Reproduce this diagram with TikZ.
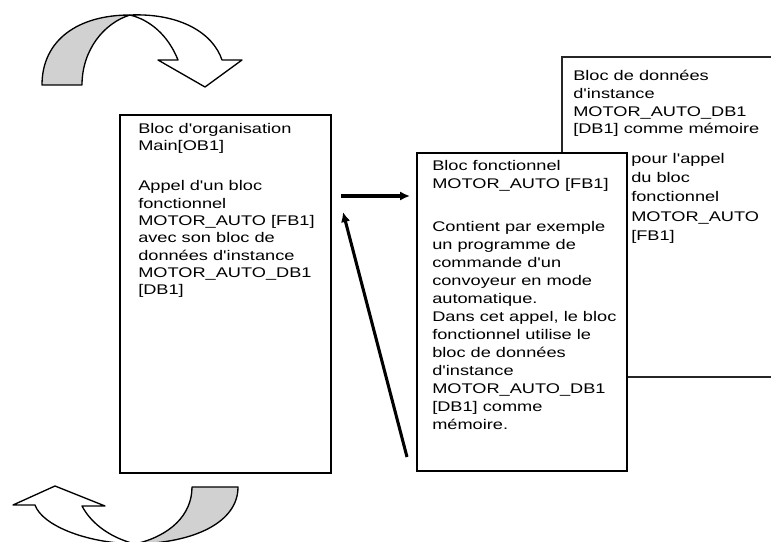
\documentclass[tikz,border=0pt]{standalone}
\usepackage{fontspec}
\newfontfamily\boxfont{Liberation Sans}[FakeStretch=1.3]
\usepackage{tikz}
\usetikzlibrary{arrows,arrows.meta,calc,positioning}
\tikzset{
        block/.style = {draw, rectangle, line width=1pt, fill=white,
            inner sep=0pt},
        txt/.style = {anchor=north west, inner sep=0pt, align=left,
            font=\boxfont\fontsize{10.5}{13}\selectfont},
        arrow/.style = {draw, -{Latex[length=7.5pt,width=7pt]}, line width=2.3pt},
        band/.style = {draw, line width=1pt, line join=round},
    }

\begin{document}
\begin{tikzpicture}[x=0.75pt,y=0.75pt,yscale=-1,xscale=1]
\useasboundingbox (0,0) rectangle (771,542);
\clip (0,0) rectangle (771,542);

%Curve Lines: upper turning arrow
\draw [band, fill=black!18] (42,85) -- (82,85) .. controls (82,50) and (104,23) .. (130,15) .. controls (78,15) and (42,40) .. (42,85) -- cycle;
\draw [band, fill=white] (130,15) .. controls (180,13) and (213,33) .. (222,60) -- (242,60) -- (205,87) -- (158,60) -- (178,60) .. controls (168,35) and (150,20) .. (130,15) -- cycle;
%Curve Lines: lower turning arrow
\draw [band, fill=black!18] (192,487) -- (238,487) .. controls (238,522) and (195,543) .. (135,544) .. controls (170,536) and (192,515) .. (192,487) -- cycle;
\draw [band, fill=white] (135,544) .. controls (85,543) and (42,525) .. (35,505) -- (13,505) -- (55,486) -- (105,506) -- (82,506) .. controls (92,525) and (112,538) .. (135,544) -- cycle;

%Shape: Rectangle
\node [block, minimum width=158.25pt, minimum height=268.5pt] (ob1) at (225.5,294) {};
%Shape: Rectangle (runs off to the right)
\node [block, draw=black!85, minimum width=178.5pt, minimum height=240pt] (db1) at (681,217) {};
%Shape: Rectangle
\node [block, minimum width=157.5pt, minimum height=238.5pt] (fb1) at (522,312) {};

% Text Node
\node [txt] (ob1txt) at (138,123) {Bloc d'organisation\\Main[OB1]\\[17pt]Appel d'un bloc\\fonctionnel\\MOTOR\_AUTO [FB1]\\avec son bloc de\\données d'instance\\MOTOR\_AUTO\_DB1\\{}[DB1]};
% Text Node
\node [txt, font=\boxfont\fontsize{10.5}{13.5}\selectfont] (fb1txt) at (432,160) {Bloc fonctionnel\\MOTOR\_AUTO [FB1]\\[18.5pt]Contient par exemple\\un programme de\\commande d'un\\convoyeur en mode\\automatique.\\Dans cet appel, le bloc\\fonctionnel utilise le\\bloc de données\\d'instance\\MOTOR\_AUTO\_DB1\\{}[DB1] comme\\mémoire.};
% Text Node
\node [txt, font=\boxfont\fontsize{10.5}{13.3}\selectfont] (db1txt) at (573,70) {Bloc de données\\d'instance\\MOTOR\_AUTO\_DB1\\{}[DB1] comme mémoire};
% Text Node
\node [txt, font=\boxfont\fontsize{10.5}{14.4}\selectfont] (db1more) at (631,153) {pour l'appel\\du bloc\\fonctionnel\\MOTOR\_AUTO\\{}[FB1]};

%Straight Lines
\coordinate (callout) at (341,196);
\coordinate (callin) at (410,196);
\coordinate (retfrom) at (407,457);
\coordinate (retto) at (343,212);
\draw [arrow] (callout) -- (callin);
\draw [arrow] (retfrom) -- (retto);

\end{tikzpicture}
\end{document}
